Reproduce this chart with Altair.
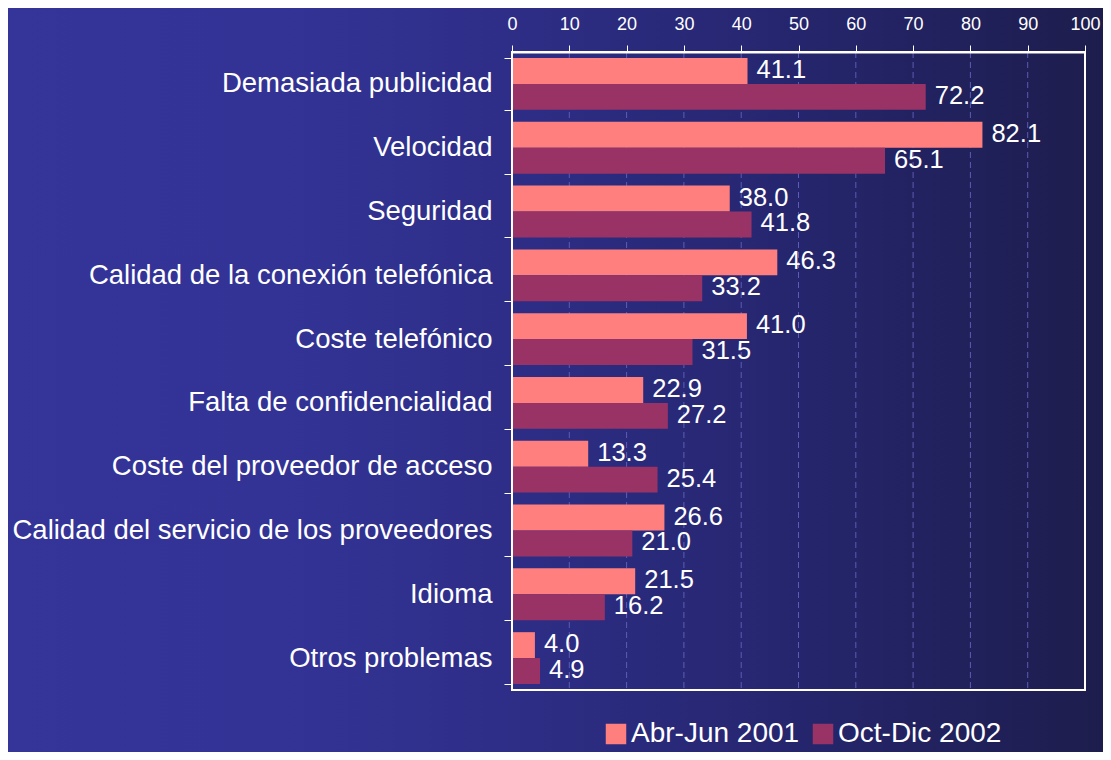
import altair as alt
import pandas as pd

categories = [
    "Demasiada publicidad",
    "Velocidad",
    "Seguridad",
    "Calidad de la conexión telefónica",
    "Coste telefónico",
    "Falta de confidencialidad",
    "Coste del proveedor de acceso",
    "Calidad del servicio de los proveedores",
    "Idioma",
    "Otros problemas",
]
series = ["Abr-Jun 2001", "Oct-Dic 2002"]
abr_jun_2001 = [41.1, 82.1, 38.0, 46.3, 41.0, 22.9, 13.3, 26.6, 21.5, 4.0]
oct_dic_2002 = [72.2, 65.1, 41.8, 33.2, 31.5, 27.2, 25.4, 21.0, 16.2, 4.9]
x_ticks = [0, 10, 20, 30, 40, 50, 60, 70, 80, 90, 100]
grid_ticks = [10, 20, 30, 40, 50, 60, 70, 80, 90]
colors = ["#FF7F7F", "#993366"]

rows = []
for i, c in enumerate(categories):
    rows.append({"cat": c, "serie": series[0], "val": abr_jun_2001[i]})
    rows.append({"cat": c, "serie": series[1], "val": oct_dic_2002[i]})
df = pd.DataFrame(rows)

W, H = 573, 638
PL, PT, PR, PB = 504, 44, 18, 62
FONT = "Liberation Sans"

bg = alt.Chart(alt.Data(values=[{"k": 1}])).mark_rect(
    fill=alt.LinearGradient(
        gradient="linear", x1=0, x2=1, y1=0, y2=0,
        stops=[
            alt.GradientStop(offset=0, color="#343499"),
            alt.GradientStop(offset=0.25, color="#333396"),
            alt.GradientStop(offset=0.45, color="#2e2e88"),
            alt.GradientStop(offset=0.7, color="#262670"),
            alt.GradientStop(offset=1, color="#1d1d4d"),
        ],
    ),
    strokeWidth=0,
).encode(
    x=alt.value(-PL), x2=alt.value(W + PR),
    y=alt.value(-PT), y2=alt.value(H + PB),
)

grid = alt.Chart(pd.DataFrame({"g": grid_ticks})).mark_rule(
    color="#5c5cb4", strokeDash=[6, 4], strokeWidth=1
).encode(
    x=alt.X("g:Q", scale=alt.Scale(domain=[0, 100])),
    y=alt.value(0), y2=alt.value("height"),
)

y_enc = alt.Y(
    "cat:N", sort=categories,
    scale=alt.Scale(paddingInner=0.1875, paddingOuter=0.094),
    axis=alt.Axis(
        title=None, labelColor="white", labelFontSize=27.5, labelFont=FONT,
        labelPadding=12, tickColor="white", tickSize=8, tickBand="extent",
        domain=False, grid=False, zindex=1, labelLimit=600,
    ),
)
x_enc = alt.X(
    "val:Q",
    scale=alt.Scale(domain=[0, 100], nice=False),
    axis=alt.Axis(
        orient="top", title=None, values=x_ticks, labelColor="white",
        labelFontSize=18, labelFont=FONT, labelPadding=12, tickColor="white",
        tickSize=7, domainColor="white", domainWidth=2, grid=False, zindex=1,
        labelFlush=False, labelOverlap=False,
    ),
)

bars = alt.Chart(df).mark_bar().encode(
    y=y_enc,
    x=x_enc,
    yOffset=alt.YOffset("serie:N", sort=series, scale=alt.Scale(paddingInner=0, paddingOuter=0)),
    color=alt.Color(
        "serie:N", sort=series,
        scale=alt.Scale(domain=series, range=colors),
        legend=alt.Legend(
            title=None, orient="none", direction="horizontal",
            legendX=90, legendY=668, padding=0, symbolType="square",
            symbolSize=420, symbolStrokeWidth=0, labelColor="white",
            labelFontSize=28, labelFont=FONT, labelOffset=1,
            columnPadding=9, labelLimit=400, zindex=1,
        ),
    ),
)

labels = alt.Chart(df).mark_text(
    align="left", baseline="middle", dx=9, dy=-1, color="white",
    fontSize=25.5, font=FONT,
).encode(
    y=alt.Y("cat:N", sort=categories),
    x=alt.X("val:Q"),
    yOffset=alt.YOffset("serie:N", sort=series),
    text=alt.Text("val:Q", format=".1f"),
)

border = alt.Chart(alt.Data(values=[{"k": 1}])).mark_rect(
    fill="transparent", stroke="white", strokeWidth=2
).encode(
    x=alt.value(0), x2=alt.value("width"),
    y=alt.value(0), y2=alt.value("height"),
)

chart = alt.layer(bg, grid, bars, labels, border).properties(
    width=W, height=H,
    autosize=alt.AutoSizeParams(type="none"),
    padding={"left": PL, "top": PT, "right": PR, "bottom": PB},
).configure(background="#2a2a80").configure_view(stroke=None, fill=None)

chart.save("out.html", embed_options={"renderer": "svg", "actions": False})
